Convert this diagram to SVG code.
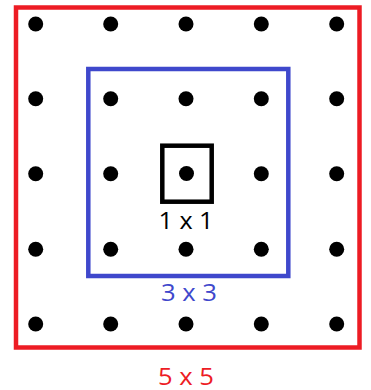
<svg xmlns="http://www.w3.org/2000/svg" width="371" height="390" viewBox="0 0 371 390">
<style>
.dot{fill:#000}
.lbl{font-family:"Open Sans","Liberation Sans",sans-serif;font-size:24px;text-anchor:middle}
.box{fill:none;stroke-width:4.5}
</style>
<rect width="371" height="390" fill="#fff"/>
<g id="red-5x5">
<rect class="box" x="16" y="7.5" width="343.5" height="340" stroke="#ED1C24"/>
<text class="lbl" x="186" y="384.5" fill="#ED1C24" textLength="56" lengthAdjust="spacingAndGlyphs">5 x 5</text>
</g>
<g id="blue-3x3">
<rect class="box" x="88.3" y="69" width="200" height="207" stroke="#3F48CC"/>
<text class="lbl" x="189" y="301" fill="#3F48CC" textLength="56" lengthAdjust="spacingAndGlyphs">3 x 3</text>
</g>
<g id="black-1x1">
<rect class="box" x="162.3" y="145.7" width="49.4" height="56" stroke="#000"/>
<text class="lbl" x="186" y="229.3" fill="#000" textLength="55" lengthAdjust="spacingAndGlyphs">1 x 1</text>
</g>
<g id="dots">
<circle class="dot" cx="35.7" cy="24" r="7.5"/><circle class="dot" cx="110.7" cy="24" r="7.5"/><circle class="dot" cx="186" cy="24" r="7.5"/><circle class="dot" cx="261.3" cy="24" r="7.5"/><circle class="dot" cx="336.7" cy="24" r="7.5"/>
<circle class="dot" cx="35.7" cy="98.7" r="7.5"/><circle class="dot" cx="110.7" cy="98.7" r="7.5"/><circle class="dot" cx="186" cy="98.7" r="7.5"/><circle class="dot" cx="261.3" cy="98.7" r="7.5"/><circle class="dot" cx="336.7" cy="98.7" r="7.5"/>
<circle class="dot" cx="35.7" cy="173.7" r="7.5"/><circle class="dot" cx="110.7" cy="173.7" r="7.5"/><circle class="dot" cx="186.5" cy="173.5" r="7.5"/><circle class="dot" cx="261.3" cy="173.7" r="7.5"/><circle class="dot" cx="336.7" cy="173.7" r="7.5"/>
<circle class="dot" cx="35.7" cy="249.3" r="7.5"/><circle class="dot" cx="110.7" cy="249.3" r="7.5"/><circle class="dot" cx="186" cy="249.3" r="7.5"/><circle class="dot" cx="261.3" cy="249.3" r="7.5"/><circle class="dot" cx="336.7" cy="249.3" r="7.5"/>
<circle class="dot" cx="35.7" cy="324" r="7.5"/><circle class="dot" cx="110.7" cy="324" r="7.5"/><circle class="dot" cx="186" cy="324" r="7.5"/><circle class="dot" cx="261.3" cy="324" r="7.5"/><circle class="dot" cx="336.7" cy="324" r="7.5"/>
</g>
</svg>
